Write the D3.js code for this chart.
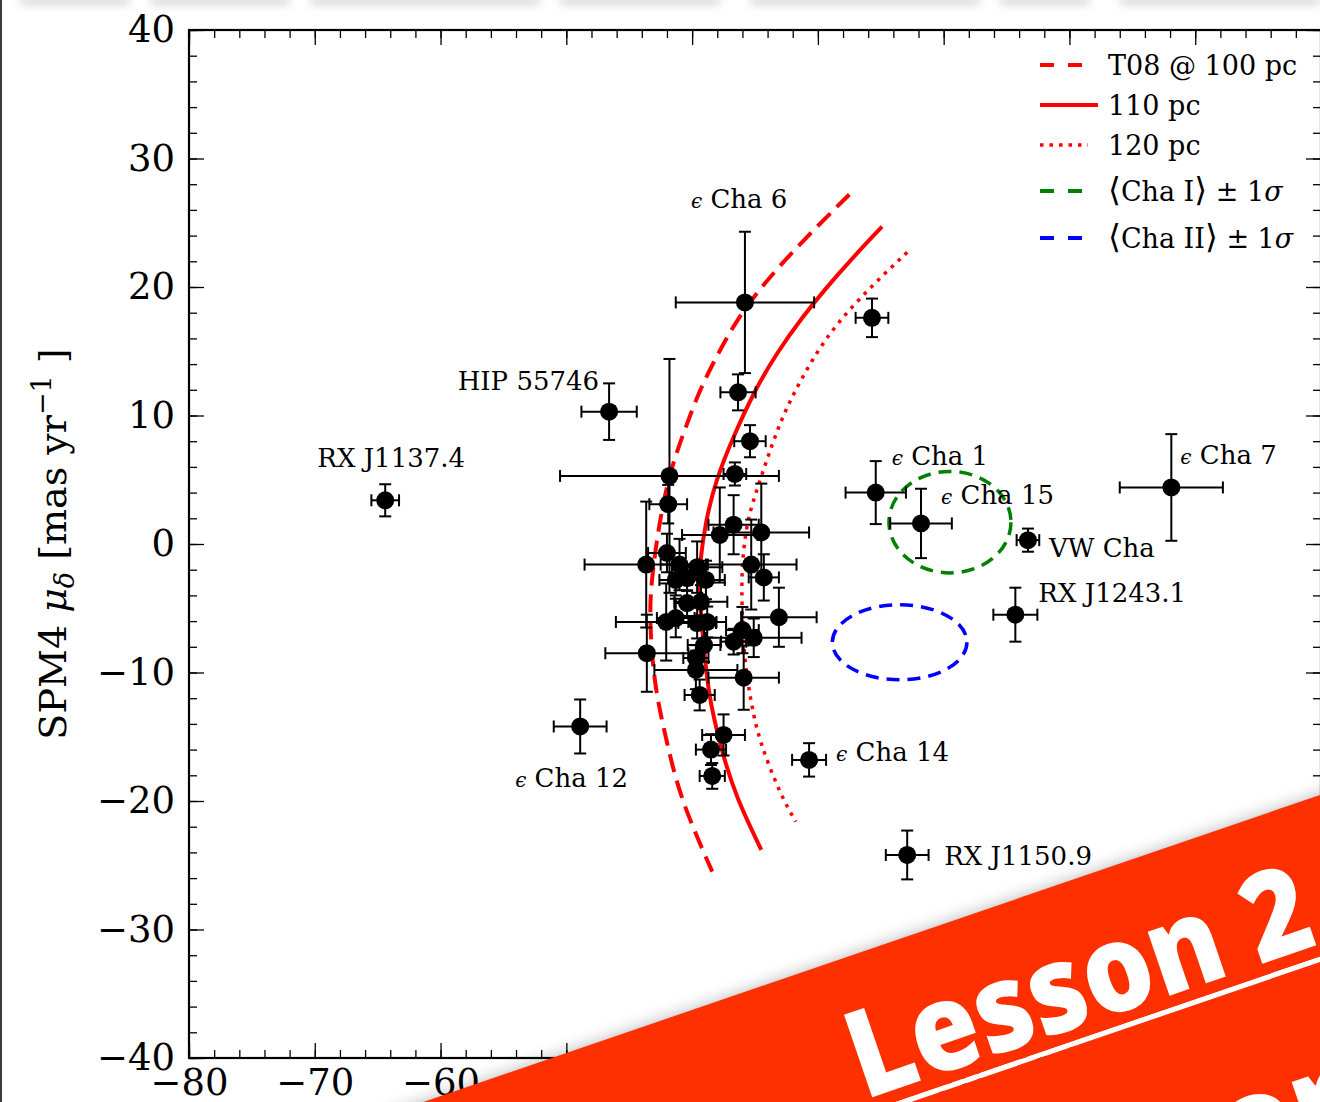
<!DOCTYPE html>
<html>
<head>
<meta charset="utf-8">
<script src="https://cdn.jsdelivr.net/npm/d3@7"></script>
<style>
  html, body { margin: 0; padding: 0; background: #fff; overflow: hidden; }
  svg { display: block; }
</style>
</head>
<body>
<svg id="chart" width="1320" height="1102"></svg>
<script>
// ---- Proper motions (mas/yr): RA component, Dec component and 1-sigma errors ----
const starNames = [
  "RX J1137.4", "HIP 55746", "ϵ Cha 12", "ϵ Cha 6", "ϵ Cha 1", "ϵ Cha 15",
  "VW Cha", "RX J1243.1", "ϵ Cha 7", "ϵ Cha 14", "RX J1150.9", "",
  "", "", "", "", "", "", "", "", "", "", "", "", "", "", "", "", "", "",
  "", "", "", "", "", "", "", "", "", "", "", "", "", "", "", "", "", ""
];
const pmRA = [
  -64.4, -46.6, -48.9, -35.8, -25.4, -21.8,
  -13.3, -14.3, -1.9, -30.7, -22.9, -25.7,
  -36.35, -35.4, -36.6, -41.8, -41.9, -37.8, -36.7, -34.5, -43.65, -42.0,
  -41.0, -39.6, -35.3, -34.3, -38.9, -41.3, -40.4, -39.3, -40.4, -33.1,
  -42.06, -41.3, -39.6, -38.8, -36.0, -35.1, -36.7, -43.6, -39.05, -39.7,
  -39.7, -35.9, -39.4, -37.5, -38.5, -38.4
];
const pmDec = [
  3.4, 10.3, -14.2, 18.8, 4.0, 1.6,
  0.3, -5.5, 4.4, -16.8, -24.2, 17.6,
  11.8, 8.0, 5.45, 5.3, 3.1, 0.7, 1.5, 0.9, -1.6, -0.7,
  -1.6, -1.8, -1.6, -2.6, -2.8, -2.8, -2.65, -4.5, -4.6, -5.7,
  -6.07, -5.76, -6.15, -6.07, -6.7, -7.3, -7.6, -8.5, -7.86, -8.87,
  -9.8, -10.4, -11.75, -14.86, -16.0, -18.05
];
const errRA = [
  1.1, 2.2, 2.1, 5.5, 2.4, 2.45,
  0.9, 1.75, 4.1, 1.35, 1.7, 1.3,
  1.4, 1.25, 0.9, 8.7, 1.5, 3.0, 2.0, 3.8, 4.9, 1.5,
  1.5, 2.0, 3.6, 1.2, 1.5, 1.3, 1.0, 2.1, 1.0, 3.0,
  4.0, 1.5, 1.5, 1.5, 1.3, 3.8, 1.0, 3.3, 1.3, 1.0,
  3.3, 2.8, 1.2, 1.7, 1.2, 1.0
];
const errDec = [
  1.25, 2.2, 2.1, 5.5, 2.45, 2.7,
  0.9, 2.1, 4.15, 1.3, 1.9, 1.5,
  1.4, 1.25, 0.9, 9.1, 1.5, 3.7, 2.3, 3.8, 4.9, 1.5,
  2.0, 2.0, 3.5, 1.8, 1.5, 1.2, 1.0, 1.3, 1.0, 2.3,
  3.0, 1.5, 1.2, 1.2, 1.8, 1.5, 1.0, 3.0, 1.3, 1.0,
  1.5, 2.5, 1.2, 1.6, 1.2, 1.0
];

// ---- Predicted proper-motion tracks for a common space motion at 100/110/120 pc ----
const trackT08_100 = [
  [-27.5, 27.2], [-31.1, 23.7], [-34.1, 20.5], [-36.3, 17.7], [-37.9, 14.9],
  [-39.4, 12.0], [-40.5, 9.1], [-41.6, 6.15], [-42.5, 2.4], [-43.25, -2.8],
  [-43.4, -5.9], [-43.0, -11.1], [-42.1, -15.0], [-41.0, -19.7], [-38.4, -25.5]
];
const track110 = [
  [-24.9, 24.7], [-27.4, 22.1], [-29.45, 19.8], [-31.2, 17.7], [-33.25, 14.9],
  [-35.0, 12.0], [-36.75, 8.3], [-38.1, 5.0], [-38.9, 1.9], [-39.4, -1.5],
  [-39.45, -3.6], [-39.3, -5.4], [-38.9, -9.8], [-38.55, -12.4], [-37.6, -16.3],
  [-36.5, -19.7], [-34.5, -23.8]
];
const track120 = [
  [-22.9, 22.7], [-25.6, 20.2], [-28.5, 17.2], [-30.5, 14.3], [-32.1, 11.4],
  [-33.25, 8.9], [-34.8, 4.4], [-35.6, 1.9], [-35.95, -0.7], [-36.1, -3.35],
  [-35.9, -8.8], [-35.3, -12.4], [-34.7, -15.25], [-32.9, -19.7], [-31.75, -21.6]
];

// ---- Mean motion of Cha I and Cha II with 1-sigma extent: [cx, cy, sx, sy] ----
const chaI = [-19.5, 1.7, 4.85, 3.95];
const chaII = [-23.5, -7.65, 5.35, 2.92];

// ---- Axis ticks ----
const xMajorTicks = [-80, -70, -60, -50, -40, -30, -20, -10, 0, 10];
const yMajorTicks = [-40, -30, -20, -10, 0, 10, 20, 30, 40];
const xMinorTicks = d3.range(-80, 11, 2);
const yMinorTicks = d3.range(-40, 41, 2);

// ---- Legend entries ----
const legendLabels = ["T08 @ 100 pc", "110 pc", "120 pc", "⟨Cha I⟩ ± 1σ", "⟨Cha II⟩ ± 1σ"];

// ================= drawing =================
const svg = d3.select("#chart");
const W = 1320, H = 1102;
const SERIF = "'DejaVu Serif', serif";

const x = d3.scaleLinear().domain([-80, 10]).range([189, 1321]);
const y = d3.scaleLinear().domain([-40, 40]).range([1058, 30]);

svg.append("rect").attr("width", W).attr("height", H).attr("fill", "#fff");

const defs = svg.append("defs");
defs.append("filter").attr("id", "soft").attr("x", "-20%").attr("y", "-300%")
  .attr("width", "140%").attr("height", "700%")
  .append("feGaussianBlur").attr("stdDeviation", 4);
defs.append("filter").attr("id", "shadow").attr("x", "-20%").attr("y", "-50%")
  .attr("width", "140%").attr("height", "200%")
  .append("feGaussianBlur").attr("stdDeviation", 9);
defs.append("clipPath").attr("id", "plotclip").append("rect")
  .attr("x", 189).attr("y", 30).attr("width", 1132).attr("height", 1028);

// faint page header strip and window edge
const header = svg.append("g").attr("filter", "url(#soft)").attr("fill", "#d8d8d8");
[[20, 110], [150, 140], [310, 230], [560, 160], [750, 230], [1000, 90], [1120, 200]]
  .forEach(([x0, w]) => header.append("rect").attr("x", x0).attr("y", -3)
    .attr("width", w).attr("height", 8));
svg.append("rect").attr("x", 0).attr("y", 0).attr("width", 2).attr("height", H).attr("fill", "#3a3a3a");

// ---- axes: inward major and minor ticks on all four sides ----
function styleAxis(g) {
  g.select(".domain").remove();
  g.selectAll(".tick line").attr("stroke", "#000").attr("stroke-width", 1.3);
  g.selectAll(".tick text").attr("font-family", SERIF).attr("font-size", 37).attr("fill", "#000");
}
const fmt = d => d3.format("d")(d);

svg.append("g").attr("transform", `translate(0,${y(-40)})`)
  .call(d3.axisBottom(x).tickValues(xMajorTicks).tickFormat(fmt).tickSize(-15).tickPadding(11))
  .call(styleAxis);
svg.append("g").attr("transform", `translate(0,${y(-40)})`)
  .call(d3.axisBottom(x).tickValues(xMinorTicks).tickFormat("").tickSize(-8))
  .call(styleAxis);
svg.append("g").attr("transform", `translate(0,${y(40)})`)
  .call(d3.axisTop(x).tickValues(xMajorTicks).tickFormat("").tickSize(-15))
  .call(styleAxis);
svg.append("g").attr("transform", `translate(0,${y(40)})`)
  .call(d3.axisTop(x).tickValues(xMinorTicks).tickFormat("").tickSize(-8))
  .call(styleAxis);
svg.append("g").attr("transform", `translate(${x(-80)},0)`)
  .call(d3.axisLeft(y).tickValues(yMajorTicks).tickFormat(fmt).tickSize(-15).tickPadding(14))
  .call(styleAxis);
svg.append("g").attr("transform", `translate(${x(-80)},0)`)
  .call(d3.axisLeft(y).tickValues(yMinorTicks).tickFormat("").tickSize(-8))
  .call(styleAxis);
svg.append("g").attr("transform", `translate(${x(10)},0)`)
  .call(d3.axisRight(y).tickValues(yMajorTicks).tickFormat("").tickSize(-15))
  .call(styleAxis);
svg.append("g").attr("transform", `translate(${x(10)},0)`)
  .call(d3.axisRight(y).tickValues(yMinorTicks).tickFormat("").tickSize(-8))
  .call(styleAxis);

// frame
svg.append("rect").attr("x", x(-80)).attr("y", y(40))
  .attr("width", x(10) - x(-80)).attr("height", y(-40) - y(40))
  .attr("fill", "none").attr("stroke", "#000").attr("stroke-width", 2.2);

// y-axis title
const yt = svg.append("text")
  .attr("transform", `translate(66,${y(0)}) rotate(-90)`)
  .attr("text-anchor", "middle").attr("font-family", SERIF).attr("font-size", 38);
yt.append("tspan").text("SPM4 ");
yt.append("tspan").attr("font-style", "italic").text("μ");
yt.append("tspan").attr("font-style", "italic").attr("font-size", 27).attr("dy", 8).text("δ");
yt.append("tspan").attr("dy", -8).text(" [mas yr");
yt.append("tspan").attr("font-size", 27).attr("dy", -15).text("−1");
yt.append("tspan").attr("dy", 15).text(" ]");

// ---- model tracks and group ellipses ----
const plot = svg.append("g").attr("clip-path", "url(#plotclip)");
const line = d3.line().x(d => x(d[0])).y(d => y(d[1])).curve(d3.curveBasis);
plot.append("path").datum(trackT08_100).attr("d", line).attr("fill", "none")
  .attr("stroke", "#ff0000").attr("stroke-width", 4).attr("stroke-dasharray", "18,9");
plot.append("path").datum(track110).attr("d", line).attr("fill", "none")
  .attr("stroke", "#ff0000").attr("stroke-width", 4);
plot.append("path").datum(track120).attr("d", line).attr("fill", "none")
  .attr("stroke", "#ff0000").attr("stroke-width", 3.5).attr("stroke-dasharray", "3.5,6");

function ellipse(p, color) {
  plot.append("ellipse")
    .attr("cx", x(p[0])).attr("cy", y(p[1]))
    .attr("rx", x(p[0] + p[2]) - x(p[0])).attr("ry", y(p[1] - p[3]) - y(p[1]))
    .attr("fill", "none").attr("stroke", color).attr("stroke-width", 3.5)
    .attr("stroke-dasharray", "13,8");
}
ellipse(chaI, "#008000");
ellipse(chaII, "#0000ff");

// ---- data points with error bars ----
const stars = pmRA.map((v, i) => ({
  name: starNames[i], ra: v, dec: pmDec[i], era: errRA[i], edec: errDec[i]
}));
const cap = 6;
const eb = plot.append("g").attr("stroke", "#000").attr("stroke-width", 2);
stars.forEach(s => {
  const cx = x(s.ra), cy = y(s.dec);
  const x0 = x(s.ra - s.era), x1 = x(s.ra + s.era);
  const y0 = y(s.dec + s.edec), y1 = y(s.dec - s.edec);
  eb.append("line").attr("x1", x0).attr("x2", x1).attr("y1", cy).attr("y2", cy);
  eb.append("line").attr("x1", cx).attr("x2", cx).attr("y1", y0).attr("y2", y1);
  [x0, x1].forEach(xx => eb.append("line").attr("x1", xx).attr("x2", xx)
    .attr("y1", cy - cap).attr("y2", cy + cap));
  [y0, y1].forEach(yy => eb.append("line").attr("x1", cx - cap).attr("x2", cx + cap)
    .attr("y1", yy).attr("y2", yy));
});
plot.append("g").selectAll("circle").data(stars).join("circle")
  .attr("cx", d => x(d.ra)).attr("cy", d => y(d.dec)).attr("r", 9).attr("fill", "#000");

// ---- star labels (pixel offsets from each star) ----
const labelOffsets = {
  "RX J1137.4": [6, -33, "middle"],
  "HIP 55746": [-10, -22, "end"],
  "ϵ Cha 12": [-65, 61, "start"],
  "ϵ Cha 6": [-54, -94, "start"],
  "ϵ Cha 1": [16, -28, "start"],
  "ϵ Cha 15": [20, -19, "start"],
  "VW Cha": [21, 17, "start"],
  "RX J1243.1": [23, -13, "start"],
  "ϵ Cha 7": [9, -23, "start"],
  "ϵ Cha 14": [27, 1, "start"],
  "RX J1150.9": [37, 10, "start"]
};
stars.filter(s => s.name).forEach(s => {
  const [dx, dy, anchor] = labelOffsets[s.name];
  const t = svg.append("text").attr("x", x(s.ra) + dx).attr("y", y(s.dec) + dy)
    .attr("text-anchor", anchor).attr("font-family", SERIF).attr("font-size", 26).attr("fill", "#000");
  if (s.name.startsWith("ϵ")) {
    t.append("tspan").attr("font-style", "italic").attr("font-size", 20).text("ϵ");
    t.append("tspan").text(s.name.slice(1));
  } else {
    t.text(s.name);
  }
});

// ---- legend ----
const legendStyles = [
  { color: "#ff0000", width: 4, dash: "14,14", len: 43 },
  { color: "#ff0000", width: 4, dash: null, len: 58 },
  { color: "#ff0000", width: 3.5, dash: "3.5,6", len: 48 },
  { color: "#008000", width: 4, dash: "14,14", len: 43 },
  { color: "#0000ff", width: 4, dash: "14,14", len: 43 }
];
const legendRows = [65, 105, 145, 191, 238];
const lg = svg.append("g");
legendLabels.forEach((lab, i) => {
  const st = legendStyles[i], yy = legendRows[i];
  lg.append("line").attr("x1", 1040).attr("x2", 1040 + st.len).attr("y1", yy).attr("y2", yy)
    .attr("stroke", st.color).attr("stroke-width", st.width)
    .attr("stroke-dasharray", st.dash);
  const t = lg.append("text").attr("x", 1108).attr("y", yy + 10)
    .attr("font-family", SERIF).attr("font-size", 27).attr("fill", "#000");
  // split into pieces so the angle brackets can be drawn taller and σ italic
  const parts = lab.split(/([⟨⟩σ])/).filter(p => p);
  parts.forEach(p => {
    const ts = t.append("tspan").text(p);
    if (p === "⟨" || p === "⟩") ts.attr("font-size", 33).attr("font-weight", 300);
    if (p === "σ") ts.attr("font-style", "italic");
  });
});

// ---- course banner across the lower right ----
const banner = svg.append("g").attr("transform", "translate(1320,795) rotate(-18.9)");
banner.append("rect").attr("x", -1400).attr("y", 2).attr("width", 1700).attr("height", 40)
  .attr("fill", "#000").attr("opacity", 0.35).attr("filter", "url(#shadow)");
banner.append("rect").attr("x", -1400).attr("y", 0).attr("width", 1700).attr("height", 153)
  .attr("fill", "#fe3000");
banner.append("rect").attr("x", -1400).attr("y", 153).attr("width", 1700).attr("height", 5)
  .attr("fill", "#ffffff");
banner.append("rect").attr("x", -1400).attr("y", 158).attr("width", 1700).attr("height", 400)
  .attr("fill", "#fe3000");
banner.append("text").attr("x", -530).attr("y", 141)
  .attr("textLength", 482).attr("lengthAdjust", "spacingAndGlyphs")
  .attr("font-family", "'Open Sans', Lato, sans-serif").attr("font-weight", 800)
  .attr("font-size", 122).attr("fill", "#fff").text("Lesson 2");
banner.append("text").attr("x", 4).attr("y", 330).attr("text-anchor", "end")
  .attr("font-family", "'Open Sans', Lato, sans-serif").attr("font-weight", 800)
  .attr("font-size", 122).attr("fill", "#fff").text("Theory");
</script>
</body>
</html>
